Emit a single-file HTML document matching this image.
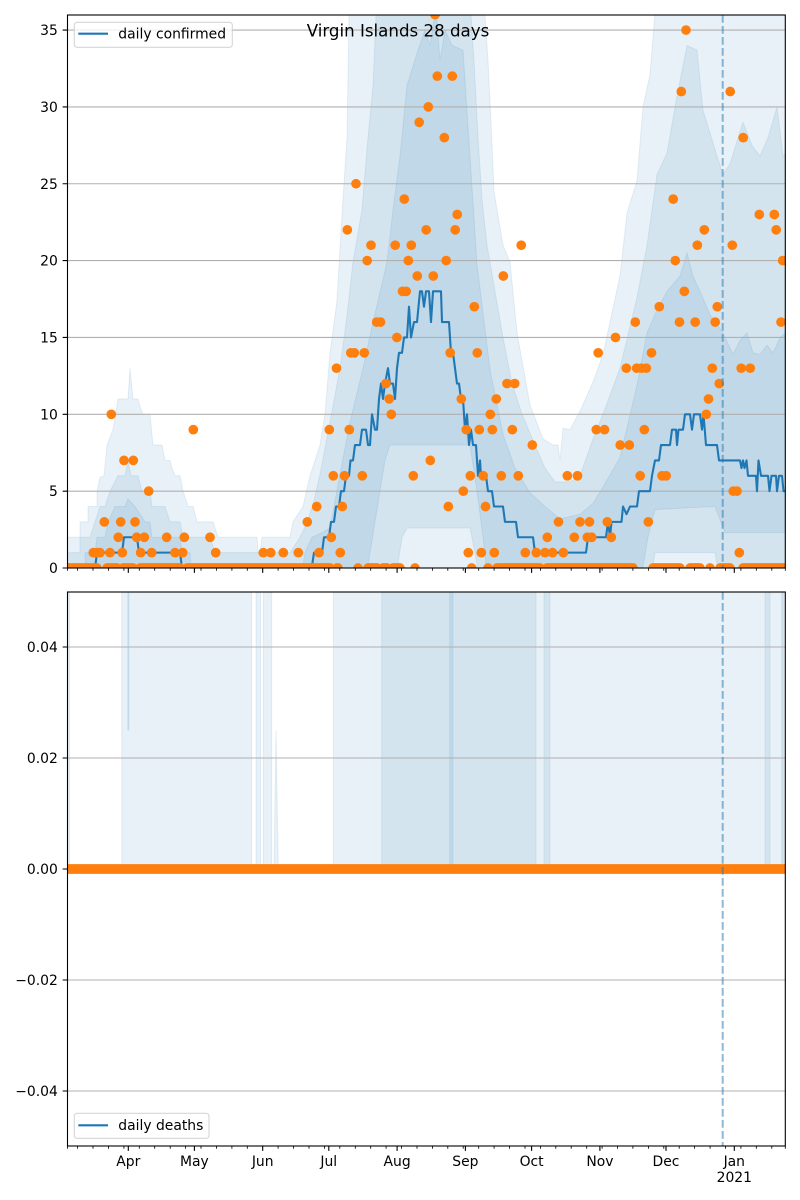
<!DOCTYPE html>
<html><head><meta charset="utf-8"><style>
html,body{margin:0;padding:0;background:#fff}
svg{display:block}
text{font-family:"DejaVu Sans","Liberation Sans",sans-serif;fill:#000}
</style></head><body>
<svg xmlns="http://www.w3.org/2000/svg" width="800" height="1200" viewBox="0 0 800 1200">
<rect x="0" y="0" width="800" height="1200" fill="#fff"/>
<defs>
<clipPath id="c1"><rect x="67.5" y="15" width="717.8" height="553"/></clipPath>
<clipPath id="c2"><rect x="67.5" y="592" width="717.8" height="554"/></clipPath>
</defs>

<!-- TOP PANEL -->
<g clip-path="url(#c1)">
<g transform="translate(0,568) scale(1,-15.37)" fill="#1f77b4" fill-opacity="0.1" stroke="#1f77b4" stroke-opacity="0.1" stroke-width="1">
<polygon vector-effect="non-scaling-stroke" points="67,2 80,2 80,3 88,3 88,4 97,4 97,5 100,5.9 104,6 107,8 113,9 118,11 128,11 130,13 133,11 138,11 140,10.5 143,10 150,10 153,8 162,8 165,7 170,7 172,6.5 175,6 180,6 183,5 188,4 193,4 197,3 213,3 218,2 257,2 258,1 260,1 262,2 290,2 293,3 303,4 310,6 315,7 320,8 325,10 330,14 337,17.4 342,23 347,28 349.3,37 484,37 488,33 491,29 494,24.5 503,21 510,19.9 517,15.3 530,10.6 543,8.4 553,8 558,8 560,7 563,9.1 570,9 580,10.2 593,12.1 603,13.9 620,19 627,23.1 637,25.2 643,30 650,32.1 656,37 786,37 786,-1 67,-1"/>
<polygon vector-effect="non-scaling-stroke" points="67,1 80,1 80,2 90,2 95,3 100,4 105,4 110,5 118,6 125,6 128,7 131,6 138,6 142,5 150,5 152,4 165,4 170,3 180,3 183,2 210,2 215,1 290,1 300,2 306.7,2.9 313.3,4.2 320,6.1 330,9.5 340,13 347,16.4 353,19.9 362,23.3 367,27.3 373,31.4 376.7,37 470,37 474,33 478,28 482,24 487,21 495,18 503,15 512,12 522,10 535,8 545,6.5 555,5.6 570,5.6 580,6 593,8.4 603,10 620,13 637,17.6 647,21 657,25.6 667,27 677,30.7 687,34 697,33.7 703,29.8 717,26.8 723,25.6 730,26.3 743,29 752,27.5 760,26.8 768,28 777,30 783,26.8 786,27 786,-1 720,-1 715,1 655,1 650,-1 480,-1 475,1 470,2.6 407,2.6 402,2 395,-1 67,-1"/>
<polygon vector-effect="non-scaling-stroke" points="67,-1 85,-1 85,1 95,1 97,2 105,2 108,3 115,4 125,4 128,4.5 135,4 145,3 150,3 152,2 180,2 182,1 190,1 192,-1 300,-1 305,1 312,2 322,2.3 330,2.6 340,6.1 350,9.5 363,13 373,16 387,19.9 393,23.3 400,26.8 407,31.4 418,33.7 425,35 430,34 436,36.5 440,33 445,35 452,34 463,33.7 470,26.8 477,19.8 490,12.9 503,8.7 515,6.5 530,4.9 545,4 560,3.2 580,3.5 593,4.2 605,5.5 620,7.2 637,11.9 647,15.3 657,16.8 667,18 680,19 687,20.5 693,19 700,18 710,16.5 723,15.3 733,13.9 740,14.8 747,15.3 753,14 760,13.9 767,14.5 773,14 780,15 786,15.3 786,2.3 725,2.3 715,4 655,3.8 648,2 640,-1 488,-1 483,2 477,5 470,8 390,8 385,7 375,3 365,-1 67,-1"/>
</g>
<g stroke="#b0b0b0" stroke-width="1.1">
<path d="M67.5 30.05H785.3M67.5 106.9H785.3M67.5 183.75H785.3M67.5 260.6H785.3M67.5 337.45H785.3M67.5 414.3H785.3M67.5 491.15H785.3"/>
</g>
<g transform="translate(0,568) scale(1,-15.37)">
<polyline vector-effect="non-scaling-stroke" fill="none" stroke="#1f77b4" stroke-width="2.08" stroke-linejoin="round" points="67.5,0 95,0 97,1 122,1 124,2 137,2 139,1 180,1 182,0 311.7,0 314,1 322,1 324,2 329,2 331,3 334,3 336,4 339,4 341,5 344,5 346,6 349,6 350.5,7 353,7 355,8 360,8 362,9 366,9 368,8 370,8 372,10 375,9 377,9 379,11 381,12 383,11 385,12 388,13 390,12 393,12 395,11 397,13 399,14 402,14 404,15 407,15 409,17 411,15 414,16 417,16 420,18 422,18 424,17 426,18 429,18 431,16 433,18 436,18 438,18 441,18 442,16 449,16 451,14 453,14 455,13 457,12 459,12 461,11 463,11 465,9 467,10 469,8 471,9 473,8 476,8 478,6 480,7 481,6 486,6 488,5 492,5 494,4 503,4 505,3 516,3 518,2 533,2 535,1 586,1 588,2 606,2 608,3 610,2 611.5,3 621.5,3 623,4 626.5,3.5 630,4 637,4 639,5 650,5 652,6 655,7 659,7 661,8 670,8 672,9 676,9 677,8 678.5,9 683,9 685,10 690,10 692,9 694,10 700,10 702,9 703.5,10 706,8 717,8 719,7 740,7 741.5,6.5 743,7 744.5,6.5 746.5,7 748,6 756,6 757,5 758.5,7 761,6 768,6 769.5,5 771.5,6 776,6 777,5 779,6 782,6 783.5,5 786,5"/>
</g>
<path fill="none" stroke="#ff7f0e" stroke-width="9.72" stroke-linecap="round" d="M68 568H97M107 568H117M123 568H133M140 568H180M187 568H330M337 568H338M368 568H377M383 568H387M393 568H400M497 568H540M547 568H633M653 568H680M690 568H700M720 568H730M743 568H786"/>
<g fill="#ff7f0e">
<circle cx="358" cy="568" r="4.86"/><circle cx="415" cy="568" r="4.86"/><circle cx="471.7" cy="568" r="4.86"/><circle cx="488" cy="568" r="4.86"/><circle cx="710" cy="568" r="4.86"/>
<circle cx="93.3" cy="552.63" r="4.86"/><circle cx="97" cy="552.63" r="4.86"/><circle cx="100" cy="552.63" r="4.86"/><circle cx="110" cy="552.63" r="4.86"/><circle cx="122.3" cy="552.63" r="4.86"/><circle cx="140.7" cy="552.63" r="4.86"/><circle cx="151.7" cy="552.63" r="4.86"/><circle cx="175" cy="552.63" r="4.86"/><circle cx="182.7" cy="552.63" r="4.86"/><circle cx="215.7" cy="552.63" r="4.86"/><circle cx="263.3" cy="552.63" r="4.86"/><circle cx="270.7" cy="552.63" r="4.86"/><circle cx="283.3" cy="552.63" r="4.86"/><circle cx="298.3" cy="552.63" r="4.86"/><circle cx="319" cy="552.63" r="4.86"/><circle cx="340.3" cy="552.63" r="4.86"/><circle cx="468.3" cy="552.63" r="4.86"/><circle cx="481.3" cy="552.63" r="4.86"/><circle cx="494.3" cy="552.63" r="4.86"/><circle cx="525.3" cy="552.63" r="4.86"/><circle cx="536.3" cy="552.63" r="4.86"/><circle cx="545" cy="552.63" r="4.86"/><circle cx="552.5" cy="552.63" r="4.86"/><circle cx="563.3" cy="552.63" r="4.86"/><circle cx="739.3" cy="552.63" r="4.86"/>
<circle cx="118.3" cy="537.26" r="4.86"/><circle cx="136.7" cy="537.26" r="4.86"/><circle cx="144.3" cy="537.26" r="4.86"/><circle cx="166.7" cy="537.26" r="4.86"/><circle cx="184.3" cy="537.26" r="4.86"/><circle cx="210" cy="537.26" r="4.86"/><circle cx="331.3" cy="537.26" r="4.86"/><circle cx="547.3" cy="537.26" r="4.86"/><circle cx="574.3" cy="537.26" r="4.86"/><circle cx="587.3" cy="537.26" r="4.86"/><circle cx="591.7" cy="537.26" r="4.86"/><circle cx="611.3" cy="537.26" r="4.86"/>
<circle cx="104.3" cy="521.89" r="4.86"/><circle cx="120.7" cy="521.89" r="4.86"/><circle cx="135" cy="521.89" r="4.86"/><circle cx="307.3" cy="521.89" r="4.86"/><circle cx="558.5" cy="521.89" r="4.86"/><circle cx="580" cy="521.89" r="4.86"/><circle cx="589.5" cy="521.89" r="4.86"/><circle cx="607.3" cy="521.89" r="4.86"/><circle cx="648.3" cy="521.89" r="4.86"/>
<circle cx="316.7" cy="506.52" r="4.86"/><circle cx="342.3" cy="506.52" r="4.86"/><circle cx="448.3" cy="506.52" r="4.86"/><circle cx="485.5" cy="506.52" r="4.86"/>
<circle cx="148.7" cy="491.15" r="4.86"/><circle cx="463.3" cy="491.15" r="4.86"/><circle cx="733.3" cy="491.15" r="4.86"/><circle cx="737" cy="491.15" r="4.86"/>
<circle cx="333.3" cy="475.78" r="4.86"/><circle cx="344.5" cy="475.78" r="4.86"/><circle cx="362.3" cy="475.78" r="4.86"/><circle cx="413.3" cy="475.78" r="4.86"/><circle cx="470.3" cy="475.78" r="4.86"/><circle cx="483.2" cy="475.78" r="4.86"/><circle cx="501.3" cy="475.78" r="4.86"/><circle cx="518.3" cy="475.78" r="4.86"/><circle cx="567.3" cy="475.78" r="4.86"/><circle cx="577.5" cy="475.78" r="4.86"/><circle cx="640.2" cy="475.78" r="4.86"/><circle cx="662" cy="475.78" r="4.86"/><circle cx="666.2" cy="475.78" r="4.86"/>
<circle cx="124" cy="460.41" r="4.86"/><circle cx="133.3" cy="460.41" r="4.86"/><circle cx="430.3" cy="460.41" r="4.86"/>
<circle cx="532.3" cy="445.04" r="4.86"/><circle cx="620.2" cy="445.04" r="4.86"/><circle cx="629.3" cy="445.04" r="4.86"/>
<circle cx="193.3" cy="429.67" r="4.86"/><circle cx="329.3" cy="429.67" r="4.86"/><circle cx="349.3" cy="429.67" r="4.86"/><circle cx="466.3" cy="429.67" r="4.86"/><circle cx="479.3" cy="429.67" r="4.86"/><circle cx="492.3" cy="429.67" r="4.86"/><circle cx="512.3" cy="429.67" r="4.86"/><circle cx="596.3" cy="429.67" r="4.86"/><circle cx="604.5" cy="429.67" r="4.86"/><circle cx="644.3" cy="429.67" r="4.86"/>
<circle cx="111.3" cy="414.3" r="4.86"/><circle cx="391.3" cy="414.3" r="4.86"/><circle cx="490.3" cy="414.3" r="4.86"/><circle cx="706.3" cy="414.3" r="4.86"/>
<circle cx="389.2" cy="398.93" r="4.86"/><circle cx="461.3" cy="398.93" r="4.86"/><circle cx="496.3" cy="398.93" r="4.86"/><circle cx="708.5" cy="398.93" r="4.86"/>
<circle cx="386" cy="383.56" r="4.86"/><circle cx="507" cy="383.56" r="4.86"/><circle cx="514.7" cy="383.56" r="4.86"/><circle cx="719.3" cy="383.56" r="4.86"/>
<circle cx="336.5" cy="368.19" r="4.86"/><circle cx="626.3" cy="368.19" r="4.86"/><circle cx="636.7" cy="368.19" r="4.86"/><circle cx="641.3" cy="368.19" r="4.86"/><circle cx="646.3" cy="368.19" r="4.86"/><circle cx="712.3" cy="368.19" r="4.86"/><circle cx="741.2" cy="368.19" r="4.86"/><circle cx="750.2" cy="368.19" r="4.86"/>
<circle cx="350.8" cy="352.82" r="4.86"/><circle cx="354.3" cy="352.82" r="4.86"/><circle cx="364.3" cy="352.82" r="4.86"/><circle cx="450.2" cy="352.82" r="4.86"/><circle cx="477.3" cy="352.82" r="4.86"/><circle cx="598.2" cy="352.82" r="4.86"/><circle cx="651.5" cy="352.82" r="4.86"/>
<circle cx="396.9" cy="337.45" r="4.86"/><circle cx="615.5" cy="337.45" r="4.86"/>
<circle cx="376.7" cy="322.08" r="4.86"/><circle cx="380.5" cy="322.08" r="4.86"/><circle cx="635.3" cy="322.08" r="4.86"/><circle cx="679.5" cy="322.08" r="4.86"/><circle cx="695.2" cy="322.08" r="4.86"/><circle cx="715.2" cy="322.08" r="4.86"/><circle cx="781" cy="322.08" r="4.86"/>
<circle cx="474.3" cy="306.71" r="4.86"/><circle cx="659.3" cy="306.71" r="4.86"/><circle cx="717.3" cy="306.71" r="4.86"/>
<circle cx="402.5" cy="291.34" r="4.86"/><circle cx="406.2" cy="291.34" r="4.86"/><circle cx="684.3" cy="291.34" r="4.86"/>
<circle cx="417.3" cy="275.97" r="4.86"/><circle cx="433.3" cy="275.97" r="4.86"/><circle cx="503.3" cy="275.97" r="4.86"/>
<circle cx="367.2" cy="260.6" r="4.86"/><circle cx="408.3" cy="260.6" r="4.86"/><circle cx="446.2" cy="260.6" r="4.86"/><circle cx="675.3" cy="260.6" r="4.86"/><circle cx="782.7" cy="260.6" r="4.86"/>
<circle cx="371" cy="245.23" r="4.86"/><circle cx="395.2" cy="245.23" r="4.86"/><circle cx="411.3" cy="245.23" r="4.86"/><circle cx="521.2" cy="245.23" r="4.86"/><circle cx="697.3" cy="245.23" r="4.86"/><circle cx="732.3" cy="245.23" r="4.86"/>
<circle cx="347.3" cy="229.86" r="4.86"/><circle cx="426.2" cy="229.86" r="4.86"/><circle cx="455.2" cy="229.86" r="4.86"/><circle cx="704.3" cy="229.86" r="4.86"/><circle cx="776.2" cy="229.86" r="4.86"/>
<circle cx="457.2" cy="214.49" r="4.86"/><circle cx="759.3" cy="214.49" r="4.86"/><circle cx="774.3" cy="214.49" r="4.86"/>
<circle cx="404.3" cy="199.12" r="4.86"/><circle cx="673.2" cy="199.12" r="4.86"/><circle cx="356" cy="183.75" r="4.86"/>
<circle cx="444.3" cy="137.64" r="4.86"/><circle cx="743.2" cy="137.64" r="4.86"/><circle cx="419.2" cy="122.27" r="4.86"/><circle cx="428.3" cy="106.9" r="4.86"/><circle cx="681.3" cy="91.53" r="4.86"/><circle cx="730.2" cy="91.53" r="4.86"/><circle cx="437.3" cy="76.16" r="4.86"/><circle cx="452.3" cy="76.16" r="4.86"/><circle cx="686" cy="30.05" r="4.86"/><circle cx="435" cy="14.68" r="4.86"/>
</g>
<line x1="722.7" y1="15" x2="722.7" y2="568" stroke="#1f77b4" stroke-opacity="0.5" stroke-width="2.08" stroke-dasharray="7.7 3.3"/>
</g>
<rect x="67.5" y="15" width="717.8" height="553" fill="none" stroke="#000" stroke-width="1.1"/>
<rect x="74.3" y="22.3" width="158" height="25" rx="2.8" fill="#fff" fill-opacity="0.8" stroke="#cccccc" stroke-opacity="0.8" stroke-width="1.1"/>
<line x1="78.3" y1="33.7" x2="108" y2="33.7" stroke="#1f77b4" stroke-width="2.08"/>
<text x="118.3" y="38.3" font-size="13.9">daily confirmed</text>
<text x="398" y="36.3" font-size="16.67" text-anchor="middle">Virgin Islands 28 days</text>

<!-- BOTTOM PANEL -->
<g clip-path="url(#c2)">
<g fill="#1f77b4" fill-opacity="0.1" stroke="#1f77b4" stroke-opacity="0.1" stroke-width="1">
<rect x="67.5" y="585" width="2" height="284"/>
<rect x="121.7" y="585" width="130" height="284"/>
<rect x="127.8" y="585" width="1.2" height="145"/>
<rect x="256" y="585" width="4.7" height="284"/>
<rect x="263.3" y="585" width="8.4" height="284"/>
<polygon points="274,869 276,730 278.3,869"/>
<rect x="333.3" y="585" width="453" height="284"/>
<rect x="381.7" y="585" width="154.3" height="284"/>
<rect x="449.7" y="585" width="3.3" height="284"/>
<rect x="544" y="585" width="6" height="284"/>
<rect x="765" y="585" width="5" height="284"/>
<rect x="781.7" y="585" width="1.6" height="284"/>
</g>
<path stroke="#b0b0b0" stroke-width="1.1" d="M67.5 647H785.3M67.5 758H785.3M67.5 869H785.3M67.5 980H785.3M67.5 1091H785.3"/>
<line x1="63" y1="869" x2="790" y2="869" stroke="#ff7f0e" stroke-width="9.72" stroke-linecap="round"/>
<line x1="722.7" y1="592" x2="722.7" y2="1146" stroke="#1f77b4" stroke-opacity="0.5" stroke-width="2.08" stroke-dasharray="7.7 3.3"/>
</g>
<rect x="67.5" y="592" width="717.8" height="554" fill="none" stroke="#000" stroke-width="1.1"/>
<rect x="74.3" y="1113.3" width="134.7" height="25" rx="2.8" fill="#fff" fill-opacity="0.8" stroke="#cccccc" stroke-opacity="0.8" stroke-width="1.1"/>
<line x1="78.3" y1="1125.3" x2="108" y2="1125.3" stroke="#1f77b4" stroke-width="2.08"/>
<text x="118.3" y="1130" font-size="13.9">daily deaths</text>

<!-- ticks -->
<g stroke="#000" stroke-width="1.1" fill="none">
<path d="M67.5 30.05h-4.86M67.5 106.9h-4.86M67.5 183.75h-4.86M67.5 260.6h-4.86M67.5 337.45h-4.86M67.5 414.3h-4.86M67.5 491.15h-4.86M67.5 568h-4.86"/>
<path d="M67.5 647h-4.86M67.5 758h-4.86M67.5 869h-4.86M67.5 980h-4.86M67.5 1091h-4.86"/>
<path d="M128.3 568v4.86M194.4 568v4.86M262.7 568v4.86M328.8 568v4.86M397.1 568v4.86M465.4 568v4.86M531.6 568v4.86M599.9 568v4.86M666 568v4.86M734.3 568v4.86"/>
<path d="M128.3 1146v4.86M194.4 1146v4.86M262.7 1146v4.86M328.8 1146v4.86M397.1 1146v4.86M465.4 1146v4.86M531.6 1146v4.86M599.9 1146v4.86M666 1146v4.86M734.3 1146v4.86"/>
</g>
<g stroke="#000" stroke-width="0.83" fill="none">
<path d="M67.5 568v2.78M77.6 568v2.78M93 568v2.78M108.5 568v2.78M123.9 568v2.78M139.3 568v2.78M154.7 568v2.78M170.2 568v2.78M185.6 568v2.78M201 568v2.78M216.4 568v2.78M231.9 568v2.78M247.3 568v2.78M278.1 568v2.78M293.6 568v2.78M309 568v2.78M324.4 568v2.78M339.8 568v2.78M355.3 568v2.78M370.7 568v2.78M386.1 568v2.78M401.5 568v2.78M417 568v2.78M432.4 568v2.78M447.8 568v2.78M463.2 568v2.78M478.7 568v2.78M494.1 568v2.78M509.5 568v2.78M525 568v2.78M540.4 568v2.78M555.8 568v2.78M571.2 568v2.78M586.7 568v2.78M602.1 568v2.78M617.5 568v2.78M632.9 568v2.78M648.4 568v2.78M663.8 568v2.78M679.2 568v2.78M694.6 568v2.78M710.1 568v2.78M725.5 568v2.78M740.9 568v2.78M756.3 568v2.78M771.8 568v2.78M785.3 568v2.78"/>
<path d="M67.5 1146v2.78M77.6 1146v2.78M93 1146v2.78M108.5 1146v2.78M123.9 1146v2.78M139.3 1146v2.78M154.7 1146v2.78M170.2 1146v2.78M185.6 1146v2.78M201 1146v2.78M216.4 1146v2.78M231.9 1146v2.78M247.3 1146v2.78M278.1 1146v2.78M293.6 1146v2.78M309 1146v2.78M324.4 1146v2.78M339.8 1146v2.78M355.3 1146v2.78M370.7 1146v2.78M386.1 1146v2.78M401.5 1146v2.78M417 1146v2.78M432.4 1146v2.78M447.8 1146v2.78M463.2 1146v2.78M478.7 1146v2.78M494.1 1146v2.78M509.5 1146v2.78M525 1146v2.78M540.4 1146v2.78M555.8 1146v2.78M571.2 1146v2.78M586.7 1146v2.78M602.1 1146v2.78M617.5 1146v2.78M632.9 1146v2.78M648.4 1146v2.78M663.8 1146v2.78M679.2 1146v2.78M694.6 1146v2.78M710.1 1146v2.78M725.5 1146v2.78M740.9 1146v2.78M756.3 1146v2.78M771.8 1146v2.78M785.3 1146v2.78"/>
</g>

<!-- tick labels -->
<g font-size="13.9" text-anchor="end">
<text x="57.8" y="35.1">35</text>
<text x="57.8" y="111.95">30</text>
<text x="57.8" y="188.8">25</text>
<text x="57.8" y="265.65">20</text>
<text x="57.8" y="342.5">15</text>
<text x="57.8" y="419.35">10</text>
<text x="57.8" y="496.2">5</text>
<text x="57.8" y="573.05">0</text>
<text x="57.8" y="652.05">0.04</text>
<text x="57.8" y="763.05">0.02</text>
<text x="57.8" y="874.05">0.00</text>
<text x="57.8" y="985.05">−0.02</text>
<text x="57.8" y="1096.05">−0.04</text>
</g>
<g font-size="13.9" text-anchor="middle">
<text x="128.3" y="1166">Apr</text>
<text x="194.4" y="1166">May</text>
<text x="262.7" y="1166">Jun</text>
<text x="328.8" y="1166">Jul</text>
<text x="397.1" y="1166">Aug</text>
<text x="465.4" y="1166">Sep</text>
<text x="531.6" y="1166">Oct</text>
<text x="599.9" y="1166">Nov</text>
<text x="666" y="1166">Dec</text>
<text x="734.3" y="1166">Jan</text>
<text x="734.3" y="1182">2021</text>
</g>
</svg>
</body></html>
